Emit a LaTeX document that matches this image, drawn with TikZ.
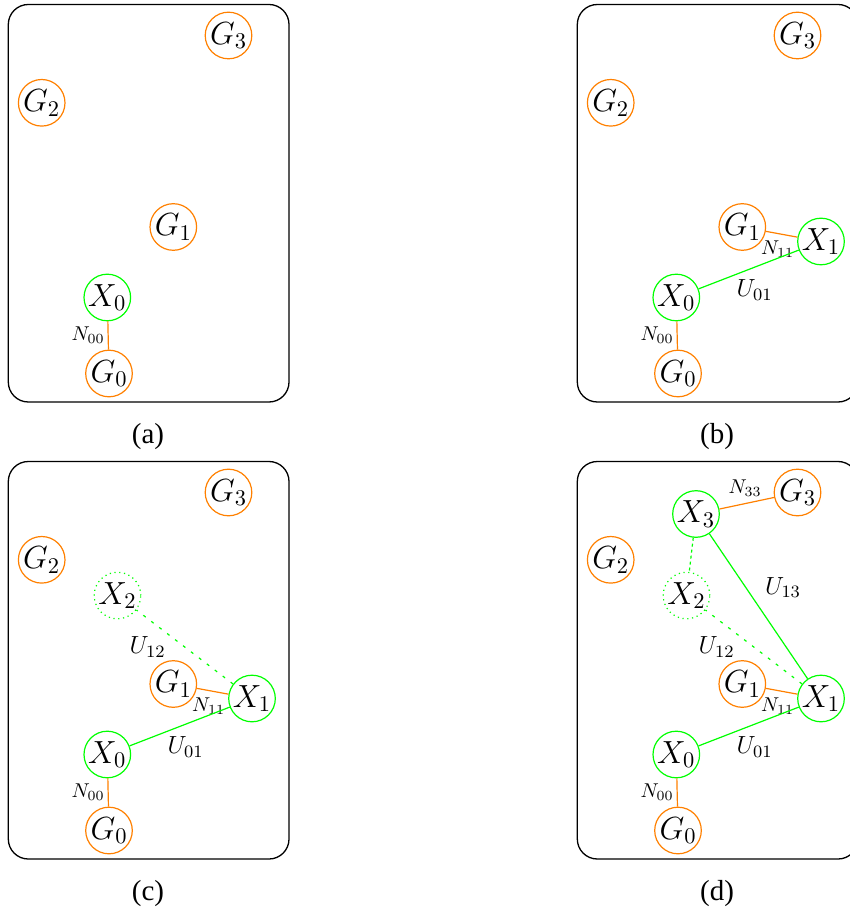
\RequirePackage{fix-cm}
\documentclass[tikz,border=0pt]{standalone}
\usepackage{fontspec}
\newfontfamily\capfont{Liberation Serif}
\usepackage{tikz}
\usetikzlibrary{positioning}
\usetikzlibrary{calc}

\tikzset{
  panel/.style={draw, line width=0.65pt, rounded corners=10pt},
  gnode/.style={circle, draw=orange, line width=0.6pt, minimum size=23.3pt, inner sep=0pt, font=\fontsize{16}{18}\selectfont},
  xnode/.style={circle, draw=green, line width=0.6pt, minimum size=23.3pt, inner sep=0pt, font=\fontsize{16}{18}\selectfont},
  xghost/.style={xnode, dash pattern=on 0.6pt off 1.8pt},
  nedge/.style={draw=orange, line width=0.6pt},
  uedge/.style={draw=green, line width=0.6pt},
  ughost/.style={uedge, dash pattern=on 1.5pt off 3.5pt},
  nlab/.style={font=\normalsize, inner sep=1.5pt},
  ulab/.style={font=\fontsize{12.4}{14}\selectfont},
  caption/.style={font=\capfont\fontsize{14.5}{16}\selectfont},
}

\begin{document}
\begin{tikzpicture}[x=0.5pt, y=-0.5pt]
  \useasboundingbox (0,0) rectangle (849,913);

  % what every panel has
  \foreach \p/\dx/\dy in {a/0/0, b/569/0, c/0/457, d/569/457} {
    \begin{scope}[shift={(\dx,\dy)}]
      \draw[panel] (8.3,4.5) rectangle (289,402);
      \node[gnode] (G3\p) at (228.5,35.5) {$G_3$};
      \node[gnode] (G2\p) at (41.7,102.8) {$G_2$};
      \node[gnode] (G1\p) at (173.3,227) {$G_1$};
      \node[xnode] (X0\p) at (107.3,297.5) {$X_0$};
      \node[gnode] (G0\p) at (109,373.5) {$G_0$};
      \draw[nedge] (X0\p) -- node[nlab, left] {$N_{00}$} (G0\p);
      \node[caption] (cap\p) at (148,437) {(\p)};
    \end{scope}
  }

  % X1 joins in (b), (c), (d)
  \foreach \p/\dx/\dy in {b/569/0, c/0/457, d/569/457} {
    \begin{scope}[shift={(\dx,\dy)}]
      \node[xnode] (X1\p) at (252,241.5) {$X_1$};
      \draw[nedge] (G1\p) -- node[nlab, below=1.8pt, pos=0.37] {$N_{11}$} (X1\p);
      \draw[uedge] (X0\p) -- node[ulab, below=2.5pt, pos=0.56] {$U_{01}$} (X1\p);
    \end{scope}
  }

  % X2 tried in (c), (d)
  \foreach \p/\dx/\dy in {c/0/457, d/569/457} {
    \begin{scope}[shift={(\dx,\dy)}]
      \node[xghost] (X2\p) at (117.5,138.5) {$X_2$};
      \draw[ughost] (X1\p) -- node[ulab, left=6pt] {$U_{12}$} (X2\p);
    \end{scope}
  }

  % X3 in (d)
  \begin{scope}[shift={(569,457)}]
    \node[xnode] (X3d) at (127,57) {$X_3$};
    \draw[nedge] (X3d) -- node[nlab, above=1.8pt, pos=0.47] {$N_{33}$} (G3d);
    \draw[uedge] (X3d) -- node[ulab, right=6pt, pos=0.37] {$U_{13}$} (X1d);
    \draw[uedge, dash pattern=on 1.5pt off 1.5pt] (X3d) -- (X2d);
  \end{scope}

\end{tikzpicture}
\end{document}
